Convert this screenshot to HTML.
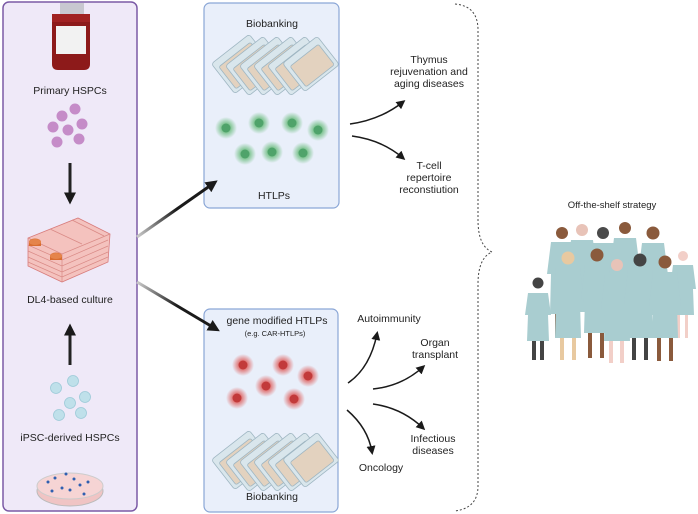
<!DOCTYPE html>
<html><head><meta charset="utf-8"><style>
html,body{margin:0;padding:0;background:#fff}
svg{display:block}
text{font-family:"Liberation Sans",sans-serif;fill:#222}
</style></head><body>
<svg width="698" height="514" viewBox="0 0 698 514" xmlns="http://www.w3.org/2000/svg">
<defs>
<marker id="ah" markerWidth="6" markerHeight="6" refX="4" refY="3" orient="auto" markerUnits="strokeWidth"><path d="M0,0 L6,3 L0,6 z" fill="#1a1a1a"/></marker>
<marker id="ah2" markerWidth="4" markerHeight="4" refX="2.5" refY="2" orient="auto" markerUnits="strokeWidth"><path d="M0,0 L4,2 L0,4 z" fill="#1a1a1a"/></marker>
<linearGradient id="g1" x1="137" y1="237" x2="216" y2="182" gradientUnits="userSpaceOnUse"><stop offset="0" stop-color="#ccc"/><stop offset="0.5" stop-color="#1a1a1a"/></linearGradient>
<linearGradient id="g2" x1="137" y1="282" x2="218" y2="330" gradientUnits="userSpaceOnUse"><stop offset="0" stop-color="#ccc"/><stop offset="0.5" stop-color="#1a1a1a"/></linearGradient>
<radialGradient id="gg"><stop offset="0.4" stop-color="#7fc491"/><stop offset="1" stop-color="#7fc491" stop-opacity="0"/></radialGradient>
<radialGradient id="rg"><stop offset="0.4" stop-color="#e07777"/><stop offset="1" stop-color="#e07777" stop-opacity="0"/></radialGradient>
</defs>

<!-- left panel -->
<rect x="3" y="2" width="134" height="509" rx="6" fill="#efe9f8" stroke="#7b5aa6" stroke-width="1.5"/>
<path d="M52,14 h38 v50 q0,6 -6,6 h-26 q-6,0 -6,-6z" fill="#8d1a1a"/>
<rect x="60" y="3" width="24" height="12" fill="#c8c8d0"/>
<path d="M52,14 h38 v8 h-38z" fill="#a12222"/>
<rect x="56" y="26" width="30" height="28" fill="#f2f2f2"/>
<text x="70" y="94" font-size="10.5" text-anchor="middle">Primary HSPCs</text>
<g fill="#c58cc8">
<circle cx="62" cy="116" r="5.5"/><circle cx="75" cy="109" r="5.5"/><circle cx="82" cy="124" r="5.5"/><circle cx="68" cy="130" r="5.5"/><circle cx="53" cy="127" r="5.5"/><circle cx="57" cy="142" r="5.5"/><circle cx="79" cy="139" r="5.5"/>
</g>
<line x1="70" y1="163" x2="70" y2="200" stroke="#222" stroke-width="3" marker-end="url(#ah2)"/>
<!-- culture flask -->
<path d="M28,238 L78,218 L110,234 L108,262 L62,282 L28,266z" fill="#f4c2be" stroke="#d87c7c" stroke-width="0.8"/>
<g stroke="#d98a86" stroke-width="0.7" fill="none">
<path d="M28,245 L62,260 L108,240"/><path d="M28,251 L62,266 L108,246"/><path d="M28,257 L62,272 L108,252"/><path d="M28,262 L62,277 L108,257"/>
<path d="M28,238 L62,254 L110,234"/><line x1="62" y1="254" x2="62" y2="282"/>
<path d="M50,229 L82,244"/><path d="M72,220 L104,236"/>
</g>
<ellipse cx="35" cy="242" rx="6" ry="3.5" fill="#d86d30"/><rect x="29" y="242" width="12" height="4" fill="#d86d30"/><ellipse cx="35" cy="242" rx="6" ry="3" fill="#e5844a"/>
<ellipse cx="56" cy="256" rx="6" ry="3.5" fill="#d86d30"/><rect x="50" y="256" width="12" height="4" fill="#d86d30"/><ellipse cx="56" cy="256" rx="6" ry="3" fill="#e5844a"/>
<text x="70" y="303" font-size="10.5" text-anchor="middle">DL4-based culture</text>
<line x1="70" y1="365" x2="70" y2="328" stroke="#222" stroke-width="3" marker-end="url(#ah2)"/>
<g fill="#bfe0ea" stroke="#9ccad8" stroke-width="0.8">
<circle cx="73" cy="381" r="5.5"/><circle cx="56" cy="388" r="5.5"/><circle cx="85" cy="397" r="5.5"/><circle cx="70" cy="403" r="5.5"/><circle cx="81" cy="413" r="5.5"/><circle cx="59" cy="415" r="5.5"/>
</g>
<text x="70" y="441" font-size="10.5" text-anchor="middle">iPSC-derived HSPCs</text>
<ellipse cx="70" cy="491" rx="33" ry="15" fill="#f0c4c4" stroke="#bbb"/>
<ellipse cx="70" cy="486" rx="33" ry="13" fill="#f6d4d4" stroke="#ccc"/>
<g fill="#2f5fb0"><circle cx="48" cy="482" r="1.5"/><circle cx="55" cy="478" r="1.5"/><circle cx="66" cy="474" r="1.5"/><circle cx="74" cy="479" r="1.5"/><circle cx="80" cy="485" r="1.5"/><circle cx="62" cy="488" r="1.5"/><circle cx="70" cy="490" r="1.5"/><circle cx="88" cy="482" r="1.5"/><circle cx="52" cy="491" r="1.5"/><circle cx="84" cy="494" r="1.5"/></g>

<!-- top box -->
<rect x="204" y="3" width="135" height="205" rx="6" fill="#e9effa" stroke="#8aa6d6" stroke-width="1.2"/>
<text x="272" y="27" font-size="10.5" text-anchor="middle">Biobanking</text>
<g stroke="#9fb6c2" stroke-width="0.8">
<g transform="translate(242,64) rotate(-38)"><rect x="-24" y="-19" width="48" height="38" rx="3" fill="#d9e6ec"/><rect x="-20" y="-12" width="40" height="28" rx="2" fill="#e3d2bf"/></g>
<g transform="translate(256,66) rotate(-38)"><rect x="-24" y="-19" width="48" height="38" rx="3" fill="#d9e6ec"/><rect x="-20" y="-12" width="40" height="28" rx="2" fill="#e3d2bf"/></g>
<g transform="translate(270,66) rotate(-38)"><rect x="-24" y="-19" width="48" height="38" rx="3" fill="#d9e6ec"/><rect x="-20" y="-12" width="40" height="28" rx="2" fill="#e3d2bf"/></g>
<g transform="translate(284,66) rotate(-38)"><rect x="-24" y="-19" width="48" height="38" rx="3" fill="#d9e6ec"/><rect x="-20" y="-12" width="40" height="28" rx="2" fill="#e3d2bf"/></g>
<g transform="translate(298,66) rotate(-38)"><rect x="-24" y="-19" width="48" height="38" rx="3" fill="#d9e6ec"/><rect x="-20" y="-12" width="40" height="28" rx="2" fill="#e3d2bf"/></g>
<g transform="translate(311,64) rotate(-38)"><rect x="-22" y="-18" width="44" height="36" rx="3" fill="#d9e6ec"/><rect x="-18" y="-11" width="36" height="26" rx="2" fill="#e3d2bf"/></g>
</g>
<g>
<circle cx="226" cy="128" r="11" fill="url(#gg)"/><circle cx="259" cy="123" r="11" fill="url(#gg)"/><circle cx="292" cy="123" r="11" fill="url(#gg)"/><circle cx="318" cy="130" r="11" fill="url(#gg)"/><circle cx="245" cy="154" r="11" fill="url(#gg)"/><circle cx="272" cy="152" r="11" fill="url(#gg)"/><circle cx="303" cy="153" r="11" fill="url(#gg)"/>
</g>
<g fill="#4fa36a"><circle cx="226" cy="128" r="4.5"/><circle cx="259" cy="123" r="4.5"/><circle cx="292" cy="123" r="4.5"/><circle cx="318" cy="130" r="4.5"/><circle cx="245" cy="154" r="4.5"/><circle cx="272" cy="152" r="4.5"/><circle cx="303" cy="153" r="4.5"/></g>
<text x="274" y="199" font-size="10.5" text-anchor="middle">HTLPs</text>

<!-- bottom box -->
<rect x="204" y="309" width="134" height="203" rx="6" fill="#e9effa" stroke="#8aa6d6" stroke-width="1.2"/>
<text x="277" y="324" font-size="10.5" text-anchor="middle">gene modified HTLPs</text>
<text x="275" y="336" font-size="7.5" text-anchor="middle">(e.g. CAR-HTLPs)</text>
<g>
<circle cx="243" cy="365" r="11" fill="url(#rg)"/><circle cx="283" cy="365" r="11" fill="url(#rg)"/><circle cx="308" cy="376" r="11" fill="url(#rg)"/><circle cx="266" cy="386" r="11" fill="url(#rg)"/><circle cx="237" cy="398" r="11" fill="url(#rg)"/><circle cx="294" cy="399" r="11" fill="url(#rg)"/>
</g>
<g fill="#c23a3a"><circle cx="243" cy="365" r="4.5"/><circle cx="283" cy="365" r="4.5"/><circle cx="308" cy="376" r="4.5"/><circle cx="266" cy="386" r="4.5"/><circle cx="237" cy="398" r="4.5"/><circle cx="294" cy="399" r="4.5"/></g>
<g stroke="#9fb6c2" stroke-width="0.8">
<g transform="translate(242,460) rotate(-38)"><rect x="-24" y="-19" width="48" height="38" rx="3" fill="#d9e6ec"/><rect x="-20" y="-12" width="40" height="28" rx="2" fill="#e3d2bf"/></g>
<g transform="translate(256,462) rotate(-38)"><rect x="-24" y="-19" width="48" height="38" rx="3" fill="#d9e6ec"/><rect x="-20" y="-12" width="40" height="28" rx="2" fill="#e3d2bf"/></g>
<g transform="translate(270,462) rotate(-38)"><rect x="-24" y="-19" width="48" height="38" rx="3" fill="#d9e6ec"/><rect x="-20" y="-12" width="40" height="28" rx="2" fill="#e3d2bf"/></g>
<g transform="translate(284,462) rotate(-38)"><rect x="-24" y="-19" width="48" height="38" rx="3" fill="#d9e6ec"/><rect x="-20" y="-12" width="40" height="28" rx="2" fill="#e3d2bf"/></g>
<g transform="translate(298,462) rotate(-38)"><rect x="-24" y="-19" width="48" height="38" rx="3" fill="#d9e6ec"/><rect x="-20" y="-12" width="40" height="28" rx="2" fill="#e3d2bf"/></g>
<g transform="translate(311,460) rotate(-38)"><rect x="-22" y="-18" width="44" height="36" rx="3" fill="#d9e6ec"/><rect x="-18" y="-11" width="36" height="26" rx="2" fill="#e3d2bf"/></g>
</g>
<text x="272" y="500" font-size="10.5" text-anchor="middle">Biobanking</text>

<!-- big arrows (on top of boxes) -->
<line x1="137" y1="237" x2="214" y2="183" stroke="url(#g1)" stroke-width="3" marker-end="url(#ah2)"/>
<line x1="137" y1="282" x2="216" y2="329" stroke="url(#g2)" stroke-width="3" marker-end="url(#ah2)"/>

<!-- small arrows -->
<g fill="none" stroke="#1a1a1a" stroke-width="1.5">
<path d="M350,124 Q380,120 403,102" marker-end="url(#ah)"/>
<path d="M352,136 Q382,140 403,158" marker-end="url(#ah)"/>
<path d="M348,383 Q370,368 377,334" marker-end="url(#ah)"/>
<path d="M373,389 Q402,386 423,367" marker-end="url(#ah)"/>
<path d="M373,404 Q402,408 423,428" marker-end="url(#ah)"/>
<path d="M347,410 Q368,428 372,452" marker-end="url(#ah)"/>
</g>
<g font-size="10.5" text-anchor="middle">
<text x="429" y="63">Thymus</text><text x="429" y="75">rejuvenation and</text><text x="429" y="87">aging diseases</text>
<text x="429" y="169">T-cell</text><text x="429" y="181">repertoire</text><text x="429" y="193">reconstiution</text>
<text x="389" y="322">Autoimmunity</text>
<text x="435" y="346">Organ</text><text x="435" y="358">transplant</text>
<text x="433" y="442">Infectious</text><text x="433" y="454">diseases</text>
<text x="381" y="471">Oncology</text>
</g>
<path d="M455,4 Q478,6 478,30 L478,220 Q478,246 492,252 Q478,258 478,284 L478,486 Q478,508 455,511" fill="none" stroke="#444" stroke-width="1" stroke-dasharray="2,2"/>

<text x="612" y="208" font-size="9.5" text-anchor="middle">Off-the-shelf strategy</text>
<g>
<g><rect x="555" y="312" width="4" height="25" fill="#8a5a3c"/><rect x="566" y="312" width="4" height="25" fill="#8a5a3c"/><path d="M551,242 h22 l4,32 h-4 l1,40 h-24 l1,-40 h-4z" fill="#a9cdd0"/><circle cx="562" cy="233" r="6" fill="#8a5a3c"/></g>
<g><rect x="576" y="310" width="4" height="20" fill="#e8c3b8"/><rect x="586" y="310" width="4" height="20" fill="#e8c3b8"/><path d="M571,240 h22 l4,32 h-4 l1,40 h-24 l1,-40 h-4z" fill="#a9cdd0"/><circle cx="582" cy="230" r="6" fill="#e8c3b8"/></g>
<g><path d="M592,243 h22 l4,32 h-4 l1,40 h-24 l1,-40 h-4z" fill="#a9cdd0"/><circle cx="603" cy="233" r="6" fill="#4a4a4a"/></g>
<g><path d="M614,238 h22 l4,32 h-4 l1,40 h-24 l1,-40 h-4z" fill="#a9cdd0"/><circle cx="625" cy="228" r="6" fill="#8a5a3c"/></g>
<g><path d="M642,243 h22 l4,32 h-4 l1,40 h-24 l1,-40 h-4z" fill="#a9cdd0"/><circle cx="653" cy="233" r="6.5" fill="#8a5a3c"/></g>
<g><rect x="677" y="312" width="3" height="26" fill="#f2cfc8"/><rect x="685" y="312" width="3" height="26" fill="#f2cfc8"/><path d="M673,265 h20 l3,24 h-3 l1,26 h-22 l1,-26 h-3z" fill="#a9cdd0"/><circle cx="683" cy="256" r="5" fill="#f2cfc8"/></g>
</g>
<g>
<g><rect x="532" y="338" width="4" height="22" fill="#444"/><rect x="540" y="338" width="4" height="22" fill="#444"/><path d="M528,293 h20 l3,22 h-3 l1,26 h-22 l1,-26 h-3z" fill="#a9cdd0"/><circle cx="538" cy="283" r="5.5" fill="#444"/></g>
<g><rect x="560" y="335" width="4" height="25" fill="#e8c9a0"/><rect x="572" y="335" width="4" height="25" fill="#e8c9a0"/><path d="M556,268 h24 l4,34 h-4 l1,36 h-26 l1,-36 h-4z" fill="#a9cdd0"/><circle cx="568" cy="258" r="6.5" fill="#e8c9a0"/></g>
<g><rect x="588" y="330" width="4" height="28" fill="#8a5a3c"/><rect x="600" y="330" width="4" height="28" fill="#8a5a3c"/><path d="M585,265 h24 l4,34 h-4 l1,34 h-26 l1,-34 h-4z" fill="#a9cdd0"/><circle cx="597" cy="255" r="6.5" fill="#8a5a3c"/></g>
<g><rect x="609" y="338" width="4" height="25" fill="#f2cfc8"/><rect x="620" y="338" width="4" height="25" fill="#f2cfc8"/><path d="M605,275 h24 l4,34 h-4 l1,32 h-26 l1,-32 h-4z" fill="#a9cdd0"/><circle cx="617" cy="265" r="6" fill="#e8c3b8"/></g>
<g><rect x="632" y="335" width="4" height="25" fill="#444"/><rect x="644" y="335" width="4" height="25" fill="#444"/><path d="M628,270 h24 l4,34 h-4 l1,34 h-26 l1,-34 h-4z" fill="#a9cdd0"/><circle cx="640" cy="260" r="6.5" fill="#444"/></g>
<g><rect x="657" y="335" width="4" height="26" fill="#8a5a3c"/><rect x="669" y="335" width="4" height="26" fill="#8a5a3c"/><path d="M653,272 h24 l4,34 h-4 l1,32 h-26 l1,-32 h-4z" fill="#a9cdd0"/><circle cx="665" cy="262" r="6.5" fill="#8a5a3c"/></g>
</g>
</svg>
</body></html>
